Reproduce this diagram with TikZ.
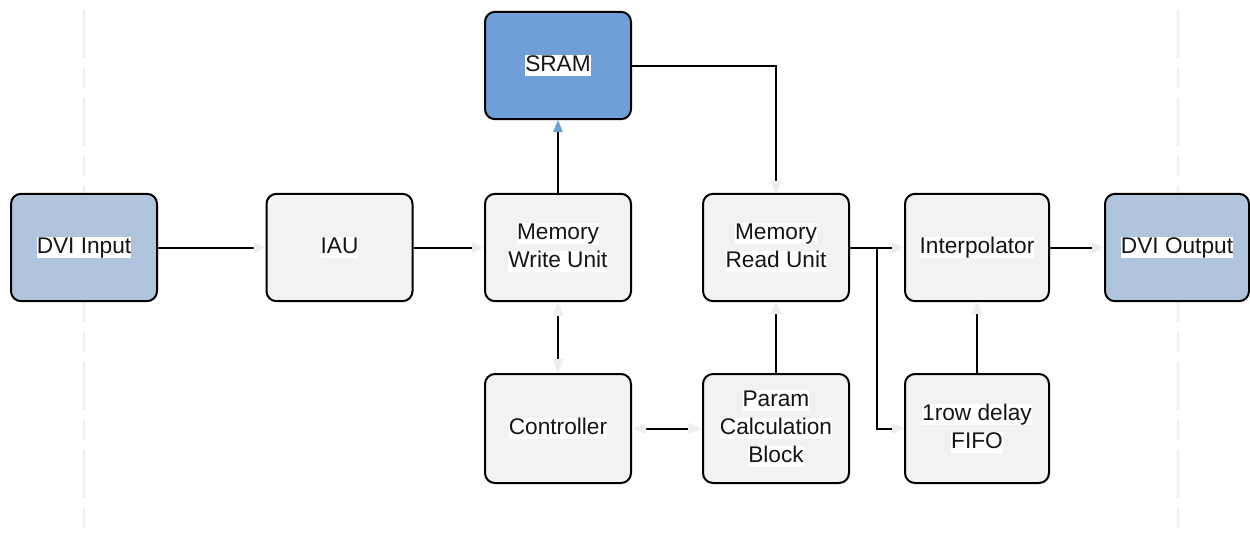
\documentclass[tikz,border=0pt]{standalone}
\usepackage{fontspec}
\setmainfont{Liberation Sans}
\usetikzlibrary{arrows.meta}

\definecolor{boxgray}{HTML}{F2F2F2}
\definecolor{ioblue}{HTML}{B0C4DE}
\definecolor{ramblue}{HTML}{6F9FD9}
\definecolor{tipgray}{HTML}{EEEEEE}
\definecolor{guidegray}{HTML}{EEEEEE}
\definecolor{inkblack}{HTML}{151515}

% white highlight behind each line of a label
\newcommand\hlt[1]{{\setlength{\fboxsep}{0pt}\colorbox{white}{\rule[-0.23em]{0pt}{0.96em}#1}}}

\tikzset{
  block/.style={draw=black, line width=1.5pt, rounded corners=7.5pt,
    fill=boxgray, minimum width=109.5pt, minimum height=80.5pt,
    inner sep=0pt, align=center, text=inkblack,
    font=\fontsize{17}{21}\selectfont},
  ioblock/.style={block, fill=ioblue},
  ramblock/.style={block, fill=ramblue},
  conn/.style={draw=black, line width=1.5pt},
  tipg/.style={-{Triangle[length=9pt, width=8.5pt, color=tipgray, line width=0pt]}},
  tipgd/.style={{Triangle[length=10.5pt, width=8.5pt, color=tipgray, line width=0pt]}-{Triangle[length=10.5pt, width=8.5pt, color=tipgray, line width=0pt]}},
  tipb/.style={-{Triangle[length=9pt, width=7.5pt, color=ramblue, line width=0pt]}},
  guide/.style={draw=guidegray, line width=1.5pt,
    dash pattern=on 36pt off 7.5pt on 15pt off 7.5pt},
}

\begin{document}
\begin{tikzpicture}[x=0.75pt, y=-0.75pt]
  \useasboundingbox (0,0) rectangle (1250,537);

  % dash-dot guide lines behind the blocks
  \draw[guide] (84,10) -- (84,537);
  \draw[guide] (1178,10) -- (1178,537);

  % top row
  \node[ramblock] (sram) at (558,65.5) {\hlt{SRAM}};

  % middle row
  \node[ioblock, minimum width=109.5pt] (din) at (84,247.5) {\hlt{DVI Input}};
  \node[block] (iau) at (339.5,247.5) {\hlt{IAU}};
  \node[block] (mwu) at (558,247.5) {\hlt{Memory}\\\hlt{Write Unit}};
  \node[block] (mru) at (776,247.5) {\hlt{Memory}\\\hlt{Read Unit}};
  \node[block, minimum width=108pt] (interp) at (977,247.5) {\hlt{Interpolator}};
  \node[ioblock, minimum width=108pt] (dout) at (1177,247.5) {\hlt{DVI Output}};

  % bottom row
  \node[block, minimum height=81.75pt] (ctrl) at (558,428.5) {\hlt{Controller}};
  \node[block, minimum height=81.75pt] (param) at (776,428.5) {\hlt{Param}\\\hlt{Calculation}\\\hlt{Block}};
  \node[block, minimum width=108pt, minimum height=81.75pt] (fifo) at (977,428.5) {\hlt{1row delay}\\\hlt{FIFO}};

  % data path
  \draw[conn, tipg] (din) -- (iau);
  \draw[conn, tipg] (iau) -- (mwu);
  \draw[conn, tipb] (mwu) -- (sram);
  \draw[conn, tipg] (sram.east) -| (mru.north);
  \draw[conn, tipg] (mru) -- (interp);
  \coordinate (split) at (877,247.5);
  \draw[conn, tipg] (split) |- (fifo.west);
  \draw[conn, tipg] (fifo) -- (interp);
  \draw[conn, tipg] (interp) -- (dout);

  % control path
  \draw[conn, tipgd] (mwu) -- (ctrl);
  \draw[conn, tipgd] (ctrl) -- (param);
  \draw[conn, tipg] (param) -- (mru);
\end{tikzpicture}
\end{document}
